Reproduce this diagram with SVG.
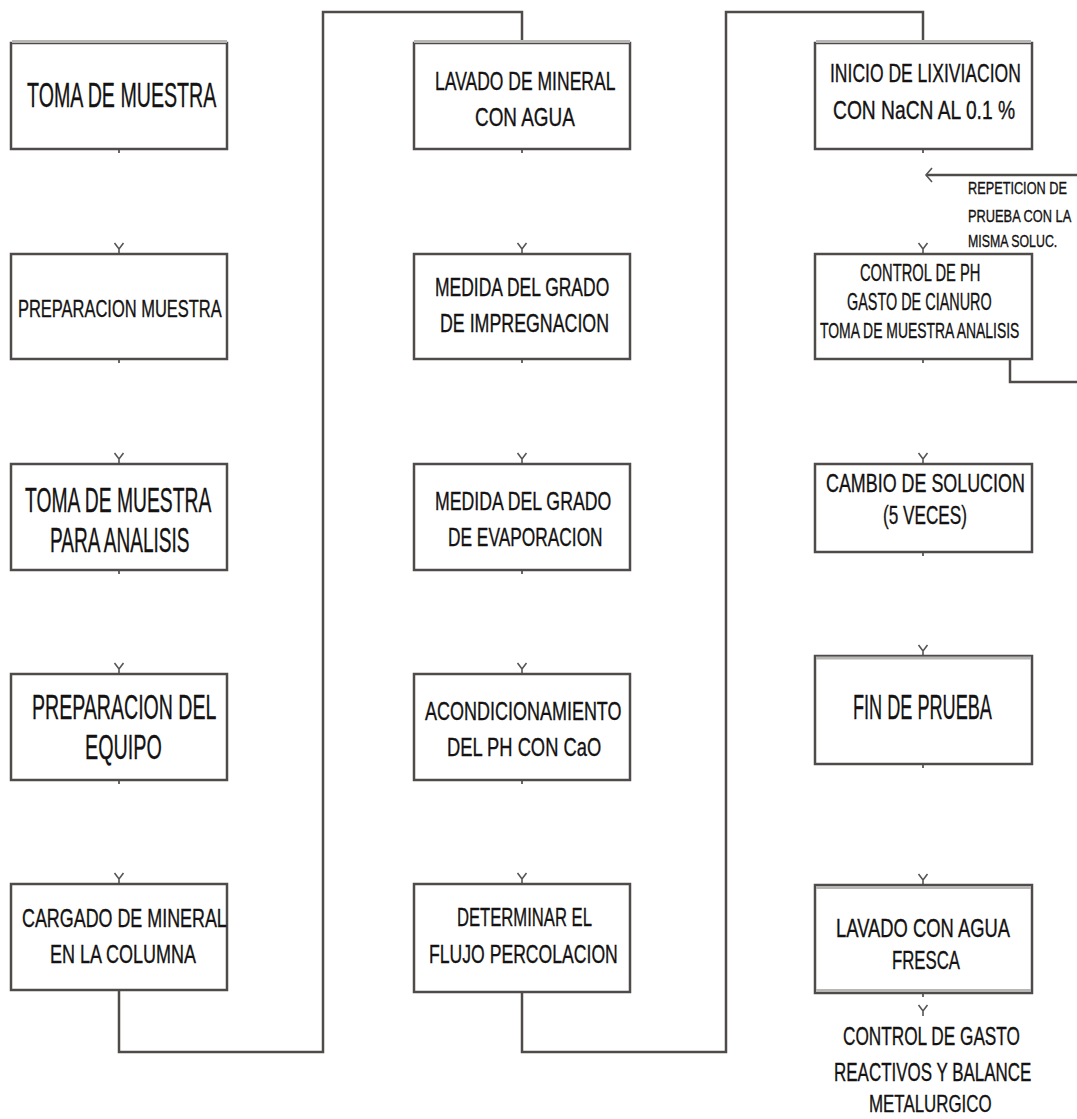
<svg xmlns="http://www.w3.org/2000/svg" xmlns:xlink="http://www.w3.org/1999/xlink" width="1077" height="1119" viewBox="0 0 1077 1119">
<style>
.box{fill:#fff;stroke:#4f4b4a;stroke-width:2.5}
.hl{stroke:#b8b6b5;stroke-width:3;fill:none}
.conn{fill:none;stroke:#4f4b4a;stroke-width:2.5}
.tick{fill:none;stroke:#3a3737;stroke-width:1.5}
text{font-family:"Liberation Sans",Arial,sans-serif;fill:#141212;stroke:#141212;stroke-width:0.35}
.L{font-size:35px}
.M{font-size:25px}
.S{font-size:23px}
.X{font-size:17px}
</style>
<defs>
<g id="va"><path d="M-4.5,-11 L0,-5 L4.5,-11 M0,-6 V0" fill="none" stroke="#555" stroke-width="1.6"/></g>
<marker id="la" markerWidth="14" markerHeight="20" refX="7" refY="10" orient="auto" markerUnits="userSpaceOnUse"><path d="M1,3 L7,10 L1,17" fill="none" stroke="#555" stroke-width="1.6"/></marker>
</defs>

<g id="connectors">
<path class="conn" d="M119,990 V1052 H323 V12 H522 V43"/>
<path class="conn" d="M522,992 V1052 H726 V12 H923 V43"/>
<path class="conn" d="M1010,359 V382 H1092 V175 H926" marker-end="url(#la)"/>
<path class="tick" d="M119,149 v4 M119,359 v4 M119,570 v4 M119,780 v4 M522,149 v4 M522,359 v4 M522,570 v4 M522,780 v4 M923,149 v4 M923,359 v4 M923,552 v4 M923,764 v4 M923,993 v4"/>
<use xlink:href="#va" x="119" y="254"/>
<use xlink:href="#va" x="119" y="464"/>
<use xlink:href="#va" x="119" y="674"/>
<use xlink:href="#va" x="119" y="884"/>
<use xlink:href="#va" x="522" y="254"/>
<use xlink:href="#va" x="522" y="464"/>
<use xlink:href="#va" x="522" y="674"/>
<use xlink:href="#va" x="522" y="884"/>
<use xlink:href="#va" x="923" y="254"/>
<use xlink:href="#va" x="923" y="464"/>
<use xlink:href="#va" x="923" y="656"/>
<use xlink:href="#va" x="923" y="885"/>
<use xlink:href="#va" x="923" y="1016"/>
</g>

<g id="n1"><rect class="box" x="11" y="43" width="216" height="106"/><path class="hl" d="M12,41.5 H227"/>
<text class="L" transform="translate(27,107) scale(0.561,1)">TOMA DE MUESTRA</text></g>
<g id="n2"><rect class="box" x="11" y="254" width="216" height="105"/>
<text class="S" transform="translate(18,317) scale(0.716,1)">PREPARACION MUESTRA</text></g>
<g id="n3"><rect class="box" x="11" y="464" width="216" height="106"/>
<text class="L" transform="translate(25,512) scale(0.552,1)">TOMA DE MUESTRA</text>
<text class="L" transform="translate(50,552) scale(0.545,1)">PARA ANALISIS</text></g>
<g id="n4"><rect class="box" x="11" y="674" width="216" height="106"/>
<text class="L" transform="translate(32,719) scale(0.559,1)">PREPARACION DEL</text>
<text class="L" transform="translate(85,759) scale(0.565,1)">EQUIPO</text></g>
<g id="n5"><rect class="box" x="11" y="884" width="216" height="106"/>
<text class="M" transform="translate(22,927) scale(0.716,1)">CARGADO DE MINERAL</text>
<text class="M" transform="translate(50,963) scale(0.72,1)">EN LA COLUMNA</text></g>

<g id="n6"><rect class="box" x="414" y="43" width="216" height="106"/><path class="hl" d="M414,41.5 H630"/>
<text class="M" transform="translate(435,90) scale(0.701,1)">LAVADO DE MINERAL</text>
<text class="M" transform="translate(475,126) scale(0.757,1)">CON AGUA</text></g>
<g id="n7"><rect class="box" x="414" y="254" width="216" height="105"/>
<text class="M" transform="translate(435,296) scale(0.7,1)">MEDIDA DEL GRADO</text>
<text class="M" transform="translate(440,332) scale(0.712,1)">DE IMPREGNACION</text></g>
<g id="n8"><rect class="box" x="414" y="464" width="216" height="106"/>
<text class="M" transform="translate(435,510) scale(0.708,1)">MEDIDA DEL GRADO</text>
<text class="M" transform="translate(448,546) scale(0.693,1)">DE EVAPORACION</text></g>
<g id="n9"><rect class="box" x="414" y="674" width="216" height="106"/>
<text class="M" transform="translate(425,720) scale(0.72,1)">ACONDICIONAMIENTO</text>
<text class="M" transform="translate(447,756) scale(0.734,1)">DEL PH CON CaO</text></g>
<g id="n10"><rect class="box" x="414" y="884" width="216" height="108"/>
<text class="M" transform="translate(457,926) scale(0.666,1)">DETERMINAR EL</text>
<text class="M" transform="translate(429,963) scale(0.705,1)">FLUJO PERCOLACION</text></g>

<g id="n11"><rect class="box" x="815" y="43" width="217" height="106"/><path class="hl" d="M816,41.5 H1031"/>
<text class="M" transform="translate(830,82) scale(0.701,1)">INICIO DE LIXIVIACION</text>
<text class="M" transform="translate(833,119) scale(0.77,1)">CON NaCN AL 0.1 %</text></g>
<g id="lbl">
<text class="X" transform="translate(968,194) scale(0.749,1)">REPETICION DE</text>
<text class="X" transform="translate(968,222) scale(0.754,1)">PRUEBA CON LA</text>
<text class="X" transform="translate(968,247) scale(0.727,1)">MISMA SOLUC.</text></g>
<g id="n12"><rect class="box" x="815" y="254" width="217" height="105"/>
<text class="S" transform="translate(860,281) scale(0.64,1)">CONTROL DE PH</text>
<text class="S" transform="translate(847,310) scale(0.627,1)">GASTO DE CIANURO</text>
<text class="S" transform="translate(820,338) scale(0.606,1)">TOMA DE MUESTRA ANALISIS</text></g>
<g id="n13"><rect class="box" x="815" y="464" width="217" height="88"/>
<text class="M" transform="translate(826,492) scale(0.716,1)">CAMBIO DE SOLUCION</text>
<text class="M" transform="translate(883,524) scale(0.687,1)">(5 VECES)</text></g>
<g id="n14"><rect class="box" x="815" y="656" width="217" height="108"/><path class="hl" d="M816,658 H1031"/>
<text class="L" transform="translate(853,719) scale(0.518,1)">FIN DE PRUEBA</text></g>
<g id="n15"><rect class="box" x="815" y="885" width="217" height="108"/><path class="hl" d="M816,887.5 H1031 M816,990.5 H1031"/>
<text class="M" transform="translate(836,937) scale(0.736,1)">LAVADO CON AGUA</text>
<text class="M" transform="translate(892,969) scale(0.671,1)">FRESCA</text></g>
<g id="n16">
<text class="M" transform="translate(843,1045) scale(0.689,1)">CONTROL DE GASTO</text>
<text class="M" transform="translate(834,1081) scale(0.679,1)">REACTIVOS Y BALANCE</text>
<text style="font-size:24px" transform="translate(869,1112) scale(0.704,1)">METALURGICO</text></g>
</svg>
